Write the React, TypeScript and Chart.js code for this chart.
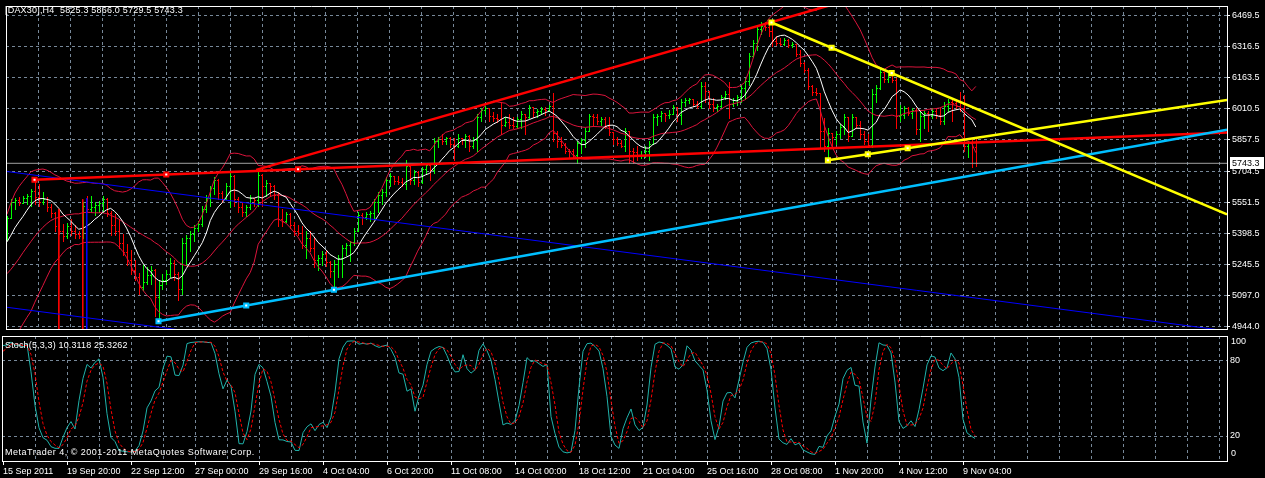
import React, { useEffect, useRef } from 'react';
import { Chart, registerables } from 'chart.js';

Chart.register(...registerables);

const FONT = "'Liberation Sans', Arial, Helvetica, sans-serif";
const GRID_COLOR = '#778899';
const UP_COLOR = '#00ff00';
const DOWN_COLOR = '#ff0000';
const BAND_COLOR = '#dc143c';

const TITLE = '[DAX30],H4  5825.3 5866.0 5729.5 5743.3';
const STOCH_TITLE = 'Stoch(5,3,3) 10.3118 25.3262';
const COPYRIGHT = 'MetaTrader 4, \u00a9 2001-2011 MetaQuotes Software Corp.';

const PRICE_TICKS = [6469.5, 6316.5, 6163.5, 6010.5, 5857.5, 5704.5, 5551.5, 5398.5, 5245.5, 5097.0, 4944.0];
const PRICE_MIN = 4931.7;
const PRICE_MAX = 6513.8;
const STOCH_LEVELS = [20, 80];
const STOCH_LABELS = ['100', '80', '20', '0'];
const TIME_LABELS = [
  '15 Sep 2011', '19 Sep 20:00', '22 Sep 12:00', '27 Sep 00:00', '29 Sep 16:00', '4 Oct 04:00',
  '6 Oct 20:00', '11 Oct 08:00', '14 Oct 00:00', '18 Oct 12:00', '21 Oct 04:00', '25 Oct 16:00',
  '28 Oct 08:00', '1 Nov 20:00', '4 Nov 12:00', '9 Nov 04:00',
];
const TIME_LABEL_STEP = 16;
const GRID_STEP = 8;
const X_MIN = -0.25;
const X_MAX = 306;
const BID = 5743.3;

// H4 bars before the first visible bar (for indicator history only)
const PRE_HIGH = [5230, 5190, 5130, 5070, 5030, 5060, 5100, 5090, 5130, 5170, 5200, 5230, 5260, 5310, 5310, 5340, 5380, 5380, 5400, 5440];
const PRE_LOW = [5150, 5100, 5040, 4980, 4960, 4975, 5020, 5030, 5040, 5100, 5120, 5150, 5190, 5230, 5250, 5260, 5310, 5320, 5330, 5370];
const PRE_CLOSE = [5180, 5120, 5060, 5010, 4985, 5030, 5070, 5050, 5110, 5140, 5170, 5200, 5240, 5290, 5270, 5320, 5360, 5340, 5390, 5420];

// visible H4 bars, 15 Sep 2011 00:00 .. 9 Nov 2011 16:00
const HIGH = [
  5486, 5567, 5572, 5577, 5582, 5591, 5615, 5653, 5644, 5601,
  5577, 5544, 5505, 5520, 5448, 5453, 5472, 5443, 5414, 5553,
  5582, 5582, 5553, 5558, 5582, 5572, 5510, 5496, 5472, 5395,
  5348, 5319, 5271, 5204, 5247, 5233, 5242, 5225, 5171, 5199,
  5223, 5281, 5271, 5209, 5376, 5391, 5414, 5443, 5462, 5534,
  5587, 5634, 5677, 5665, 5606, 5649, 5701, 5685, 5577, 5553,
  5539, 5587, 5572, 5711, 5690, 5663, 5649, 5635, 5601, 5520,
  5505, 5500, 5458, 5443, 5438, 5410, 5410, 5376, 5295, 5314,
  5314, 5265, 5271, 5295, 5343, 5352, 5362, 5424, 5505, 5501,
  5505, 5510, 5567, 5601, 5615, 5677, 5697, 5682, 5682, 5673,
  5759, 5730, 5711, 5705, 5725, 5744, 5738, 5869, 5873, 5888,
  5873, 5873, 5869, 5888, 5869, 5888, 5880, 5873, 5983, 6012,
  6026, 6015, 5993, 5983, 6045, 5969, 5983, 5969, 5969, 5998,
  5983, 6031, 6002, 6007, 6017, 6017, 6031, 6088, 5902, 5873,
  5845, 5811, 5811, 5854, 5869, 5916, 5983, 5983, 5983, 5969,
  5969, 5969, 5897, 5873, 5859, 5916, 5902, 5816, 5826, 5802,
  5826, 5854, 5983, 5983, 5998, 5983, 6002, 6031, 6017, 6060,
  6065, 6065, 6060, 6050, 6141, 6141, 6050, 6065, 6036, 6079,
  6098, 6141, 6065, 6079, 6127, 6160, 6284, 6347, 6413, 6433,
  6437, 6433, 6437, 6366, 6356, 6356, 6351, 6337, 6330, 6299,
  6240, 6208, 6125, 6112, 6090, 5964, 5916, 5892, 5902, 5936,
  5983, 5970, 5983, 5969, 5950, 5902, 5888, 6108, 6127, 6203,
  6179, 6189, 6189, 6160, 6031, 6026, 6017, 6012, 6012, 5998,
  5998, 5998, 6012, 6012, 6012, 6045, 6060, 6060, 6060, 6093,
  6079, 5854, 5869, 5866,
];
const LOW = [
  5367, 5477, 5520, 5539, 5548, 5544, 5534, 5544, 5534, 5544,
  5510, 5481, 5410, 5396, 5362, 5376, 5391, 5376, 5376, 5376,
  5505, 5510, 5491, 5505, 5505, 5486, 5391, 5391, 5328, 5295,
  5247, 5199, 5171, 5104, 5123, 5152, 5152, 4994, 4970, 5128,
  5152, 5185, 5171, 5075, 5104, 5247, 5314, 5362, 5410, 5438,
  5505, 5534, 5591, 5567, 5553, 5567, 5529, 5534, 5505, 5486,
  5486, 5520, 5534, 5534, 5534, 5582, 5582, 5567, 5438, 5438,
  5458, 5424, 5391, 5391, 5328, 5281, 5314, 5233, 5219, 5247,
  5242, 5185, 5123, 5185, 5185, 5295, 5266, 5343, 5410, 5448,
  5472, 5462, 5472, 5505, 5544, 5582, 5630, 5644, 5644, 5634,
  5615, 5644, 5644, 5630, 5649, 5692, 5663, 5697, 5821, 5840,
  5840, 5821, 5759, 5821, 5840, 5821, 5806, 5820, 5806, 5950,
  5983, 5950, 5950, 5945, 5888, 5926, 5916, 5916, 5916, 5916,
  5888, 5964, 5969, 5969, 5983, 5979, 5998, 5854, 5821, 5821,
  5792, 5773, 5773, 5744, 5792, 5821, 5900, 5931, 5936, 5931,
  5916, 5883, 5840, 5835, 5821, 5806, 5744, 5744, 5759, 5768,
  5773, 5759, 5840, 5931, 5950, 5950, 5964, 5983, 5950, 5936,
  6026, 6041, 6026, 6012, 6012, 6045, 6012, 5998, 5998, 6020,
  6060, 5964, 6026, 6031, 6045, 6060, 6127, 6265, 6299, 6375,
  6394, 6366, 6318, 6323, 6323, 6323, 6313, 6313, 6270, 6222,
  6189, 6108, 6079, 6079, 5821, 5806, 5759, 5821, 5840, 5869,
  5888, 5854, 5875, 5916, 5869, 5840, 5821, 5821, 6045, 6108,
  6141, 6141, 6141, 5916, 5950, 5964, 5979, 5964, 5888, 5854,
  5916, 5902, 5964, 5964, 5936, 5936, 5998, 5950, 6012, 5998,
  5806, 5773, 5725, 5729.5,
];
const CLOSE = [
  5477, 5553, 5563, 5548, 5572, 5582, 5606, 5577, 5553, 5567,
  5529, 5501, 5434, 5414, 5386, 5434, 5414, 5395, 5386, 5534,
  5520, 5529, 5539, 5548, 5567, 5501, 5443, 5414, 5352, 5309,
  5271, 5223, 5185, 5137, 5160, 5195, 5223, 5089, 5147, 5171,
  5199, 5257, 5199, 5128, 5352, 5376, 5395, 5424, 5448, 5520,
  5572, 5620, 5663, 5596, 5567, 5634, 5682, 5567, 5529, 5505,
  5529, 5572, 5563, 5687, 5634, 5649, 5634, 5587, 5472, 5462,
  5496, 5443, 5410, 5400, 5343, 5376, 5328, 5271, 5281, 5300,
  5262, 5214, 5252, 5281, 5328, 5343, 5357, 5410, 5491, 5481,
  5496, 5501, 5553, 5587, 5601, 5663, 5682, 5658, 5653, 5644,
  5730, 5663, 5701, 5653, 5716, 5735, 5711, 5854, 5864, 5854,
  5869, 5840, 5826, 5869, 5859, 5878, 5826, 5859, 5969, 6002,
  6012, 5974, 5964, 5959, 5931, 5945, 5931, 5926, 5959, 5983,
  5969, 6017, 5993, 5998, 6007, 6002, 6022, 5892, 5854, 5835,
  5806, 5802, 5783, 5845, 5859, 5902, 5974, 5969, 5950, 5959,
  5926, 5897, 5864, 5845, 5830, 5902, 5806, 5797, 5778, 5783,
  5806, 5840, 5969, 5974, 5988, 5979, 5983, 6017, 5979, 6045,
  6055, 6060, 6036, 6022, 6122, 6098, 6036, 6017, 6026, 6069,
  6084, 6036, 6055, 6069, 6112, 6146, 6270, 6332, 6399, 6418,
  6413, 6390, 6342, 6332, 6327, 6347, 6323, 6327, 6280, 6237,
  6198, 6122, 6093, 6088, 5902, 5830, 5892, 5873, 5888, 5921,
  5969, 5878, 5969, 5931, 5888, 5854, 5835, 6084, 6112, 6189,
  6155, 6179, 6151, 5974, 5979, 6012, 5988, 6002, 5912, 5974,
  5988, 5979, 5998, 5979, 5950, 6026, 6045, 6041, 6026, 6012,
  5830, 5845, 5825, 5743.3,
];
const LAST_OPEN = 5825.3;

// indicator settings
const MA_PERIOD = 8;
const BB_PERIOD = 20;
const BB_DEV = 2;
const STOCH_K = 5;
const STOCH_SLOW = 3;
const STOCH_D = 3;

// drawn objects: [bar index, price] anchors
const TL_RED_RISE = [[62.5, 5711], [191.75, 6435]];
const TL_RED_FLAT = [[6.9, 5663], [73, 5714]];
const TL_CYAN = [[38, 4970], [82, 5124]];
const TL_BLUE_A = [[0, 5703], [296, 4948]];
const TL_BLUE_B = [[0, 5038], [36, 4946]];
const TL_YELLOW_DOWN = [[191.75, 6433], [221.9, 6185]];
const TL_YELLOW_UP = [[205.9, 5758], [225.9, 5817]];
const VSEG_BAR = [13, 19, 20];
const VSEG_TOP = [5520, 5567, 5572];
const VSEG_COLOR = ['#ff0000', '#ff0000', '#0000ff'];

type Pt = { x: number; y: number };

const PRE = PRE_CLOSE.length;
const ALL_C = [...PRE_CLOSE, ...CLOSE];
const ALL_H = [...PRE_HIGH, ...HIGH];
const ALL_L = [...PRE_LOW, ...LOW];
const ALL_O = ALL_C.map((c, k) => (k === ALL_C.length - 1 ? LAST_OPEN : k === 0 ? c : ALL_C[k - 1]));

function avg(a: number[]) {
  return a.reduce((s, v) => s + v, 0) / a.length;
}

function buildIndicators() {
  const ma: Pt[] = [], up: Pt[] = [], mid: Pt[] = [], lo: Pt[] = [];
  for (let i = 0; i < CLOSE.length; i++) {
    const k = i + PRE;
    ma.push({ x: i, y: avg(ALL_C.slice(k - MA_PERIOD + 1, k + 1)) });
    const win = ALL_C.slice(k - BB_PERIOD + 1, k + 1);
    const m = avg(win);
    const sd = Math.sqrt(avg(win.map((v) => (v - m) * (v - m))));
    mid.push({ x: i, y: m });
    up.push({ x: i, y: m + BB_DEV * sd });
    lo.push({ x: i, y: m - BB_DEV * sd });
  }
  const num: number[] = [], den: number[] = [], K: number[] = [];
  for (let k = 0; k < ALL_C.length; k++) {
    if (k < STOCH_K - 1) { num.push(NaN); den.push(NaN); continue; }
    const ll = Math.min(...ALL_L.slice(k - STOCH_K + 1, k + 1));
    const hh = Math.max(...ALL_H.slice(k - STOCH_K + 1, k + 1));
    num.push(ALL_C[k] - ll);
    den.push(hh - ll);
  }
  for (let k = 0; k < ALL_C.length; k++) {
    if (k < STOCH_K + STOCH_SLOW - 2) { K.push(NaN); continue; }
    let n = 0, d = 0;
    for (let j = k - STOCH_SLOW + 1; j <= k; j++) { n += num[j]; d += den[j]; }
    K.push(d > 0 ? (n / d) * 100 : 100);
  }
  const kPts: Pt[] = [], dPts: Pt[] = [];
  for (let i = 0; i < CLOSE.length; i++) {
    const k = i + PRE;
    kPts.push({ x: i, y: K[k] });
    dPts.push({ x: i, y: avg(K.slice(k - STOCH_D + 1, k + 1)) });
  }
  return { ma, up, mid, lo, kPts, dPts };
}

function ray(t: number[][], x0?: number): Pt[] {
  const [a, b] = t;
  const s = (b[1] - a[1]) / (b[0] - a[0]);
  const xs = x0 === undefined ? a[0] : x0;
  return [{ x: xs, y: a[1] + s * (xs - a[0]) }, { x: X_MAX, y: a[1] + s * (X_MAX - a[0]) }];
}

function anchors(t: number[][]): Pt[] {
  const [a, b] = t;
  return [
    { x: a[0], y: a[1] },
    { x: (a[0] + b[0]) / 2, y: (a[1] + b[1]) / 2 },
    { x: b[0], y: b[1] },
  ];
}

function lineDs(data: Pt[], color: string, width: number, order: number, dash: number[] = []) {
  return {
    type: 'line' as const,
    data,
    borderColor: color,
    borderWidth: width,
    borderDash: dash,
    pointRadius: 0,
    fill: false,
    tension: 0,
    clip: 0,
    order,
  };
}

function markerDs(data: Pt[], color: string) {
  return {
    type: 'line' as const,
    data,
    showLine: false,
    pointStyle: 'rect',
    pointRadius: 2.9,
    pointBackgroundColor: '#ffffff',
    pointBorderColor: color,
    pointBorderWidth: 2,
    clip: 0,
    order: 1,
  };
}

const ohlcPlugin = {
  id: 'ohlc',
  beforeDatasetsDraw(chart: any) {
    const { ctx, chartArea: a, scales } = chart;
    const x = scales.x, y = scales.y;
    ctx.save();
    ctx.beginPath();
    ctx.rect(a.left, a.top, a.right - a.left, a.bottom - a.top);
    ctx.clip();
    for (let i = 0; i < CLOSE.length; i++) {
      const k = i + PRE;
      const o = ALL_O[k], h = ALL_H[k], l = ALL_L[k], c = ALL_C[k];
      const px = Math.round(x.getPixelForValue(i));
      const yh = Math.round(y.getPixelForValue(Math.max(h, o, c)));
      const yl = Math.round(y.getPixelForValue(Math.min(l, o, c)));
      const yo = Math.round(y.getPixelForValue(o));
      const yc = Math.round(y.getPixelForValue(c));
      ctx.fillStyle = c >= o ? UP_COLOR : DOWN_COLOR;
      ctx.fillRect(px, yh, 1, Math.max(1, yl - yh + 1));
      ctx.fillRect(px - 1, yo, 1, 1);
      ctx.fillRect(px + 1, yc, 1, 1);
    }
    ctx.restore();
  },
};

const mainFramePlugin = {
  id: 'mainFrame',
  afterDraw(chart: any) {
    const { ctx, chartArea: a, scales } = chart;
    ctx.save();
    ctx.strokeStyle = '#ffffff';
    ctx.lineWidth = 1;
    ctx.beginPath();
    ctx.moveTo(a.left + 0.5, a.top + 0.5);
    ctx.lineTo(a.right, a.top + 0.5);
    ctx.moveTo(a.left + 0.5, a.top);
    ctx.lineTo(a.left + 0.5, a.bottom + 1);
    ctx.moveTo(a.left, a.bottom + 0.5);
    ctx.lineTo(a.right, a.bottom + 0.5);
    ctx.stroke();
    ctx.font = `9px ${FONT}`;
    ctx.textBaseline = 'middle';
    ctx.fillStyle = '#ffffff';
    (ctx as any).letterSpacing = '0.2px';
    ctx.fillText(TITLE, 5, 10.5);
    (ctx as any).letterSpacing = '0px';
    const by = scales.y.getPixelForValue(BID);
    ctx.fillStyle = '#ffffff';
    ctx.fillRect(a.right + 3, Math.round(by) - 6, 34, 12);
    ctx.fillStyle = '#000000';
    ctx.fillText(BID.toFixed(1), a.right + 5, Math.round(by) + 0.5);
    ctx.restore();
  },
};

const stochFramePlugin = {
  id: 'stochFrame',
  afterDraw(chart: any) {
    const { ctx, chartArea: a, scales } = chart;
    ctx.save();
    ctx.strokeStyle = '#ffffff';
    ctx.lineWidth = 1;
    ctx.beginPath();
    ctx.moveTo(a.left, a.top + 0.5);
    ctx.lineTo(a.right, a.top + 0.5);
    ctx.moveTo(a.left + 0.5, a.top);
    ctx.lineTo(a.left + 0.5, a.bottom + 1);
    ctx.stroke();
    ctx.font = `9px ${FONT}`;
    ctx.textBaseline = 'middle';
    ctx.fillStyle = '#ffffff';
    (ctx as any).letterSpacing = '0.15px';
    ctx.fillText(STOCH_TITLE, 5, a.top + 10);
    (ctx as any).letterSpacing = '0.5px';
    ctx.fillText(COPYRIGHT, 5, a.bottom - 8);
    (ctx as any).letterSpacing = '0px';
    const ys = scales.y;
    const lx = a.right + 4;
    ctx.fillText(STOCH_LABELS[0], lx, ys.getPixelForValue(100) + 6);
    ctx.fillText(STOCH_LABELS[1], lx - 1, ys.getPixelForValue(80));
    ctx.fillText(STOCH_LABELS[2], lx - 1, ys.getPixelForValue(20));
    ctx.fillText(STOCH_LABELS[3], lx, ys.getPixelForValue(0) - 7);
    ctx.restore();
  },
};

const gridTicks = () => {
  const t: { value: number }[] = [];
  for (let v = 0; v <= X_MAX; v += GRID_STEP) t.push({ value: v });
  return t;
};

const isLabelTick = (v: number) => v % TIME_LABEL_STEP === 0 && v / TIME_LABEL_STEP < TIME_LABELS.length;

export default function App() {
  const mainRef = useRef<HTMLCanvasElement>(null);
  const stochRef = useRef<HTMLCanvasElement>(null);

  useEffect(() => {
    if (!mainRef.current || !stochRef.current) return;
    const ind = buildIndicators();

    const datasets: any[] = [
      markerDs(anchors(TL_RED_FLAT), '#ff0000'),
      markerDs(anchors(TL_CYAN), '#00bfff'),
      markerDs(anchors(TL_YELLOW_DOWN), '#ffff00'),
      markerDs(anchors(TL_YELLOW_UP), '#ffff00'),
      lineDs(ray(TL_YELLOW_DOWN), '#ffff00', 2.5, 4),
      lineDs(ray(TL_YELLOW_UP), '#ffff00', 2.5, 4),
      lineDs(ray(TL_CYAN), '#00bfff', 2.5, 5),
      lineDs(ray(TL_RED_RISE), '#ff0000', 2.5, 6),
      lineDs(ray(TL_RED_FLAT), '#ff0000', 2.5, 6),
      lineDs([{ x: X_MIN, y: BID }, { x: X_MAX, y: BID }], '#a0a0a0', 1, 7),
      lineDs(ray(TL_BLUE_A, X_MIN), '#0000ff', 1, 8),
      lineDs(ray(TL_BLUE_B, X_MIN), '#0000ff', 1, 8),
      ...VSEG_BAR.map((b, j) =>
        lineDs([{ x: b, y: VSEG_TOP[j] }, { x: b, y: PRICE_MIN - 100 }], VSEG_COLOR[j], 1, 8)),
      lineDs(ind.ma, '#ffffff', 1, 9),
      lineDs(ind.up, BAND_COLOR, 1, 10),
      lineDs(ind.mid, BAND_COLOR, 1, 10),
      lineDs(ind.lo, BAND_COLOR, 1, 10),
    ];

    const main = new Chart(mainRef.current, {
      type: 'line',
      data: { datasets },
      plugins: [ohlcPlugin, mainFramePlugin],
      options: {
        animation: false,
        responsive: false,
        devicePixelRatio: 1,
        events: [],
        layout: { padding: { left: 2, top: 2, right: 0, bottom: 2 } },
        plugins: { legend: { display: false }, tooltip: { enabled: false } },
        scales: {
          x: {
            type: 'linear',
            min: X_MIN,
            max: X_MAX,
            afterBuildTicks: (s: any) => { s.ticks = gridTicks().filter((t) => t.value > 0); },
            ticks: { display: false },
            grid: { color: GRID_COLOR, drawTicks: false, lineWidth: 1 },
            border: { display: false, dash: [3, 3] },
            afterFit: (s: any) => { s.height = 0; s.paddingLeft = 0; s.paddingRight = 0; },
          },
          y: {
            type: 'linear',
            position: 'right',
            min: PRICE_MIN,
            max: PRICE_MAX,
            afterBuildTicks: (s: any) => { s.ticks = PRICE_TICKS.map((v) => ({ value: v })); },
            ticks: {
              color: '#ffffff',
              font: { family: FONT, size: 9 },
              padding: 2,
              callback: (v: any) => Number(v).toFixed(1),
            },
            grid: { color: GRID_COLOR, tickColor: '#ffffff', tickLength: 3, lineWidth: 1 },
            border: { display: true, color: '#ffffff', width: 1, dash: [3, 3] },
            afterFit: (s: any) => { s.width = 38; s.paddingTop = 0; s.paddingBottom = 0; },
          },
        },
      } as any,
    });

    const stoch = new Chart(stochRef.current, {
      type: 'line',
      data: {
        datasets: [
          lineDs(ind.dPts, '#ff0000', 1, 1, [3, 2]) as any,
          lineDs(ind.kPts, '#20b2aa', 1, 2) as any,
        ],
      },
      plugins: [stochFramePlugin],
      options: {
        animation: false,
        responsive: false,
        devicePixelRatio: 1,
        events: [],
        layout: { padding: { left: 2, top: 1, right: 0, bottom: 0 } },
        plugins: { legend: { display: false }, tooltip: { enabled: false } },
        scales: {
          x: {
            type: 'linear',
            min: X_MIN,
            max: X_MAX,
            afterBuildTicks: (s: any) => { s.ticks = gridTicks(); },
            ticks: {
              display: true,
              autoSkip: false,
              maxRotation: 0,
              minRotation: 0,
              align: 'start',
              color: '#ffffff',
              font: { family: FONT, size: 9 },
              padding: 1,
              callback: (v: any) => {
                const n = Number(v);
                return isLabelTick(n) ? TIME_LABELS[n / TIME_LABEL_STEP] : '';
              },
            },
            grid: {
              color: (c: any) => (c.tick && c.tick.value === 0 ? 'rgba(0,0,0,0)' : GRID_COLOR),
              tickColor: (c: any) => (c.tick && isLabelTick(c.tick.value) ? '#ffffff' : 'rgba(0,0,0,0)'),
              tickLength: 4,
              lineWidth: 1,
            },
            border: { display: true, color: '#ffffff', width: 1, dash: [3, 3] },
            afterFit: (s: any) => { s.height = 17; s.paddingLeft = 0; s.paddingRight = 0; },
          },
          y: {
            type: 'linear',
            position: 'right',
            min: 0,
            max: 100,
            afterBuildTicks: (s: any) => { s.ticks = STOCH_LEVELS.map((v) => ({ value: v })); },
            ticks: { display: false },
            grid: { color: GRID_COLOR, drawTicks: false, lineWidth: 1 },
            border: { display: true, color: '#ffffff', width: 1, dash: [3, 3] },
            afterFit: (s: any) => { s.width = 38; s.paddingTop = 0; s.paddingBottom = 0; },
          },
        },
      } as any,
    });

    return () => {
      main.destroy();
      stoch.destroy();
    };
  }, []);

  return (
    <div style={{ position: 'absolute', left: 0, top: 0, width: 1265, height: 478, background: '#000000', overflow: 'hidden' }}>
      <canvas ref={mainRef} width={1265} height={335} style={{ position: 'absolute', left: 0, top: 0 }} />
      <canvas ref={stochRef} width={1265} height={143} style={{ position: 'absolute', left: 0, top: 335 }} />
    </div>
  );
}
